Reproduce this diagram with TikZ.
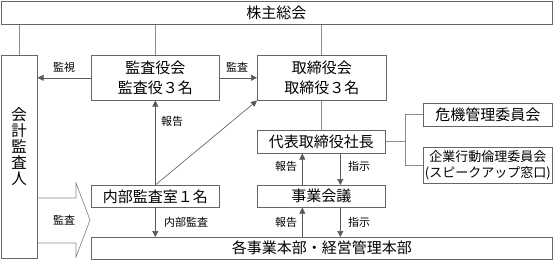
\documentclass[tikz,border=0pt]{standalone}
\usepackage{fontspec}
\setmainfont{Noto Sans CJK JP}
\usetikzlibrary{arrows.meta,shadows}
\begin{document}
\begin{tikzpicture}[x=1pt,y=-1pt,
 box/.style={draw=black!60, line width=0.6pt, fill=white, inner sep=0pt, anchor=north west, align=center,
   font=\fontsize{15}{20.5}\selectfont,
   drop shadow={shadow xshift=0.9pt, shadow yshift=-0.9pt, fill=black!25, opacity=1}},
 lbl/.style={font=\fontsize{11}{13}\selectfont, inner sep=0pt},
 ln/.style={draw=black!45, line width=0.7pt},
 arr/.style={draw=black!65, line width=0.6pt, -{Triangle[length=6pt,width=6pt]}}
]
\useasboundingbox (0,0) rectangle (553,260);

% boxes
\node[box, minimum width=551pt, minimum height=23.5pt] (top) at (0.5,0.5) {株主総会};
\node[box, minimum width=36.5pt, minimum height=203pt] (kaikei) at (0.5,55) {};
\node[font=\fontsize{15.5}{16}\selectfont, align=center, inner sep=0pt] (kaikeitxt) at (19,147) {会\\計\\監\\査\\人};
\node[box, minimum width=128pt, minimum height=45pt] (kansa) at (91,55) {監査役会\\監査役３名};
\node[box, minimum width=129pt, minimum height=45pt] (tori) at (257,55) {取締役会\\取締役３名};
\node[box, minimum width=128pt, minimum height=22pt] (naibu) at (91,185) {内部監査室１名};
\node[box, minimum width=128pt, minimum height=23pt] (daihyo) at (257,130) {代表取締役社長};
\node[box, minimum width=128pt, minimum height=22pt] (kaigi) at (257,185) {事業会議};
\node[box, minimum width=461pt, minimum height=21.5pt] (kaku) at (91,237) {各事業本部・経営管理本部};
\node[box, minimum width=129pt, minimum height=23pt] (kiki) at (423,103) {危機管理委員会};
\node[box, minimum width=129pt, minimum height=36pt, font=\fontsize{13}{16}\selectfont] (kigyo) at (423,147) {企業行動倫理委員会\\(スピークアップ窓口)};

% plain lines
\draw[ln] (kaikei.north) -- (kaikei.north |- top.south);
\draw[ln] (kansa.north) -- (kansa.north |- top.south);
\draw[ln] (tori.north) -- (tori.north |- top.south);
\draw[ln] (tori.south) -- (tori.south |- daihyo.north);
\draw[ln] (daihyo.east) -- ++(20,0) coordinate (br);
\draw[ln] (kiki.west) -- (kiki.west -| br) -- (kigyo.west -| br) -- (kigyo.west);

% arrows
\draw[arr] (kansa.west) -- (kansa.west -| kaikei.east);
\draw[arr] (kansa.east) -- (tori.west);
\draw[arr] (naibu.north) -- (kansa.south);
\draw[arr] (naibu.north) -- (tori.south west);
\draw[arr] (naibu.south) -- (naibu.south |- kaku.north);

\coordinate (u1) at ([xshift=-19pt]kaigi.north);
\coordinate (d1) at ([xshift=19pt]daihyo.south);
\draw[arr] (u1) -- (u1 |- daihyo.south);
\draw[arr] (d1) -- (d1 |- kaigi.north);
\coordinate (u2) at ([xshift=-19pt]kaigi.south);
\coordinate (d2) at ([xshift=19pt]kaigi.south);
\draw[arr] (u2 |- kaku.north) -- (u2);
\draw[arr] (d2) -- (d2 |- kaku.north);

% big hollow arrow
\draw[ln, line join=miter] (kaikei.east |- 0,198) -- (76,198) -- (76,183) -- (90,220) -- (76,257) -- (76,243) -- (kaikei.east |- 0,243);

% labels
\node[lbl] (l1) at (64,67) {監視};
\node[lbl] (l2) at (237,67) {監査};
\node[lbl] (l3) at (172,121) {報告};
\node[lbl] (l4) at (186,222) {内部監査};
\node[lbl] (l5) at (64,220) {監査};
\node[lbl] (l6) at (286,166) {報告};
\node[lbl] (l7) at (359,166) {指示};
\node[lbl] (l8) at (286,222) {報告};
\node[lbl] (l9) at (359,222) {指示};
\end{tikzpicture}
\end{document}
